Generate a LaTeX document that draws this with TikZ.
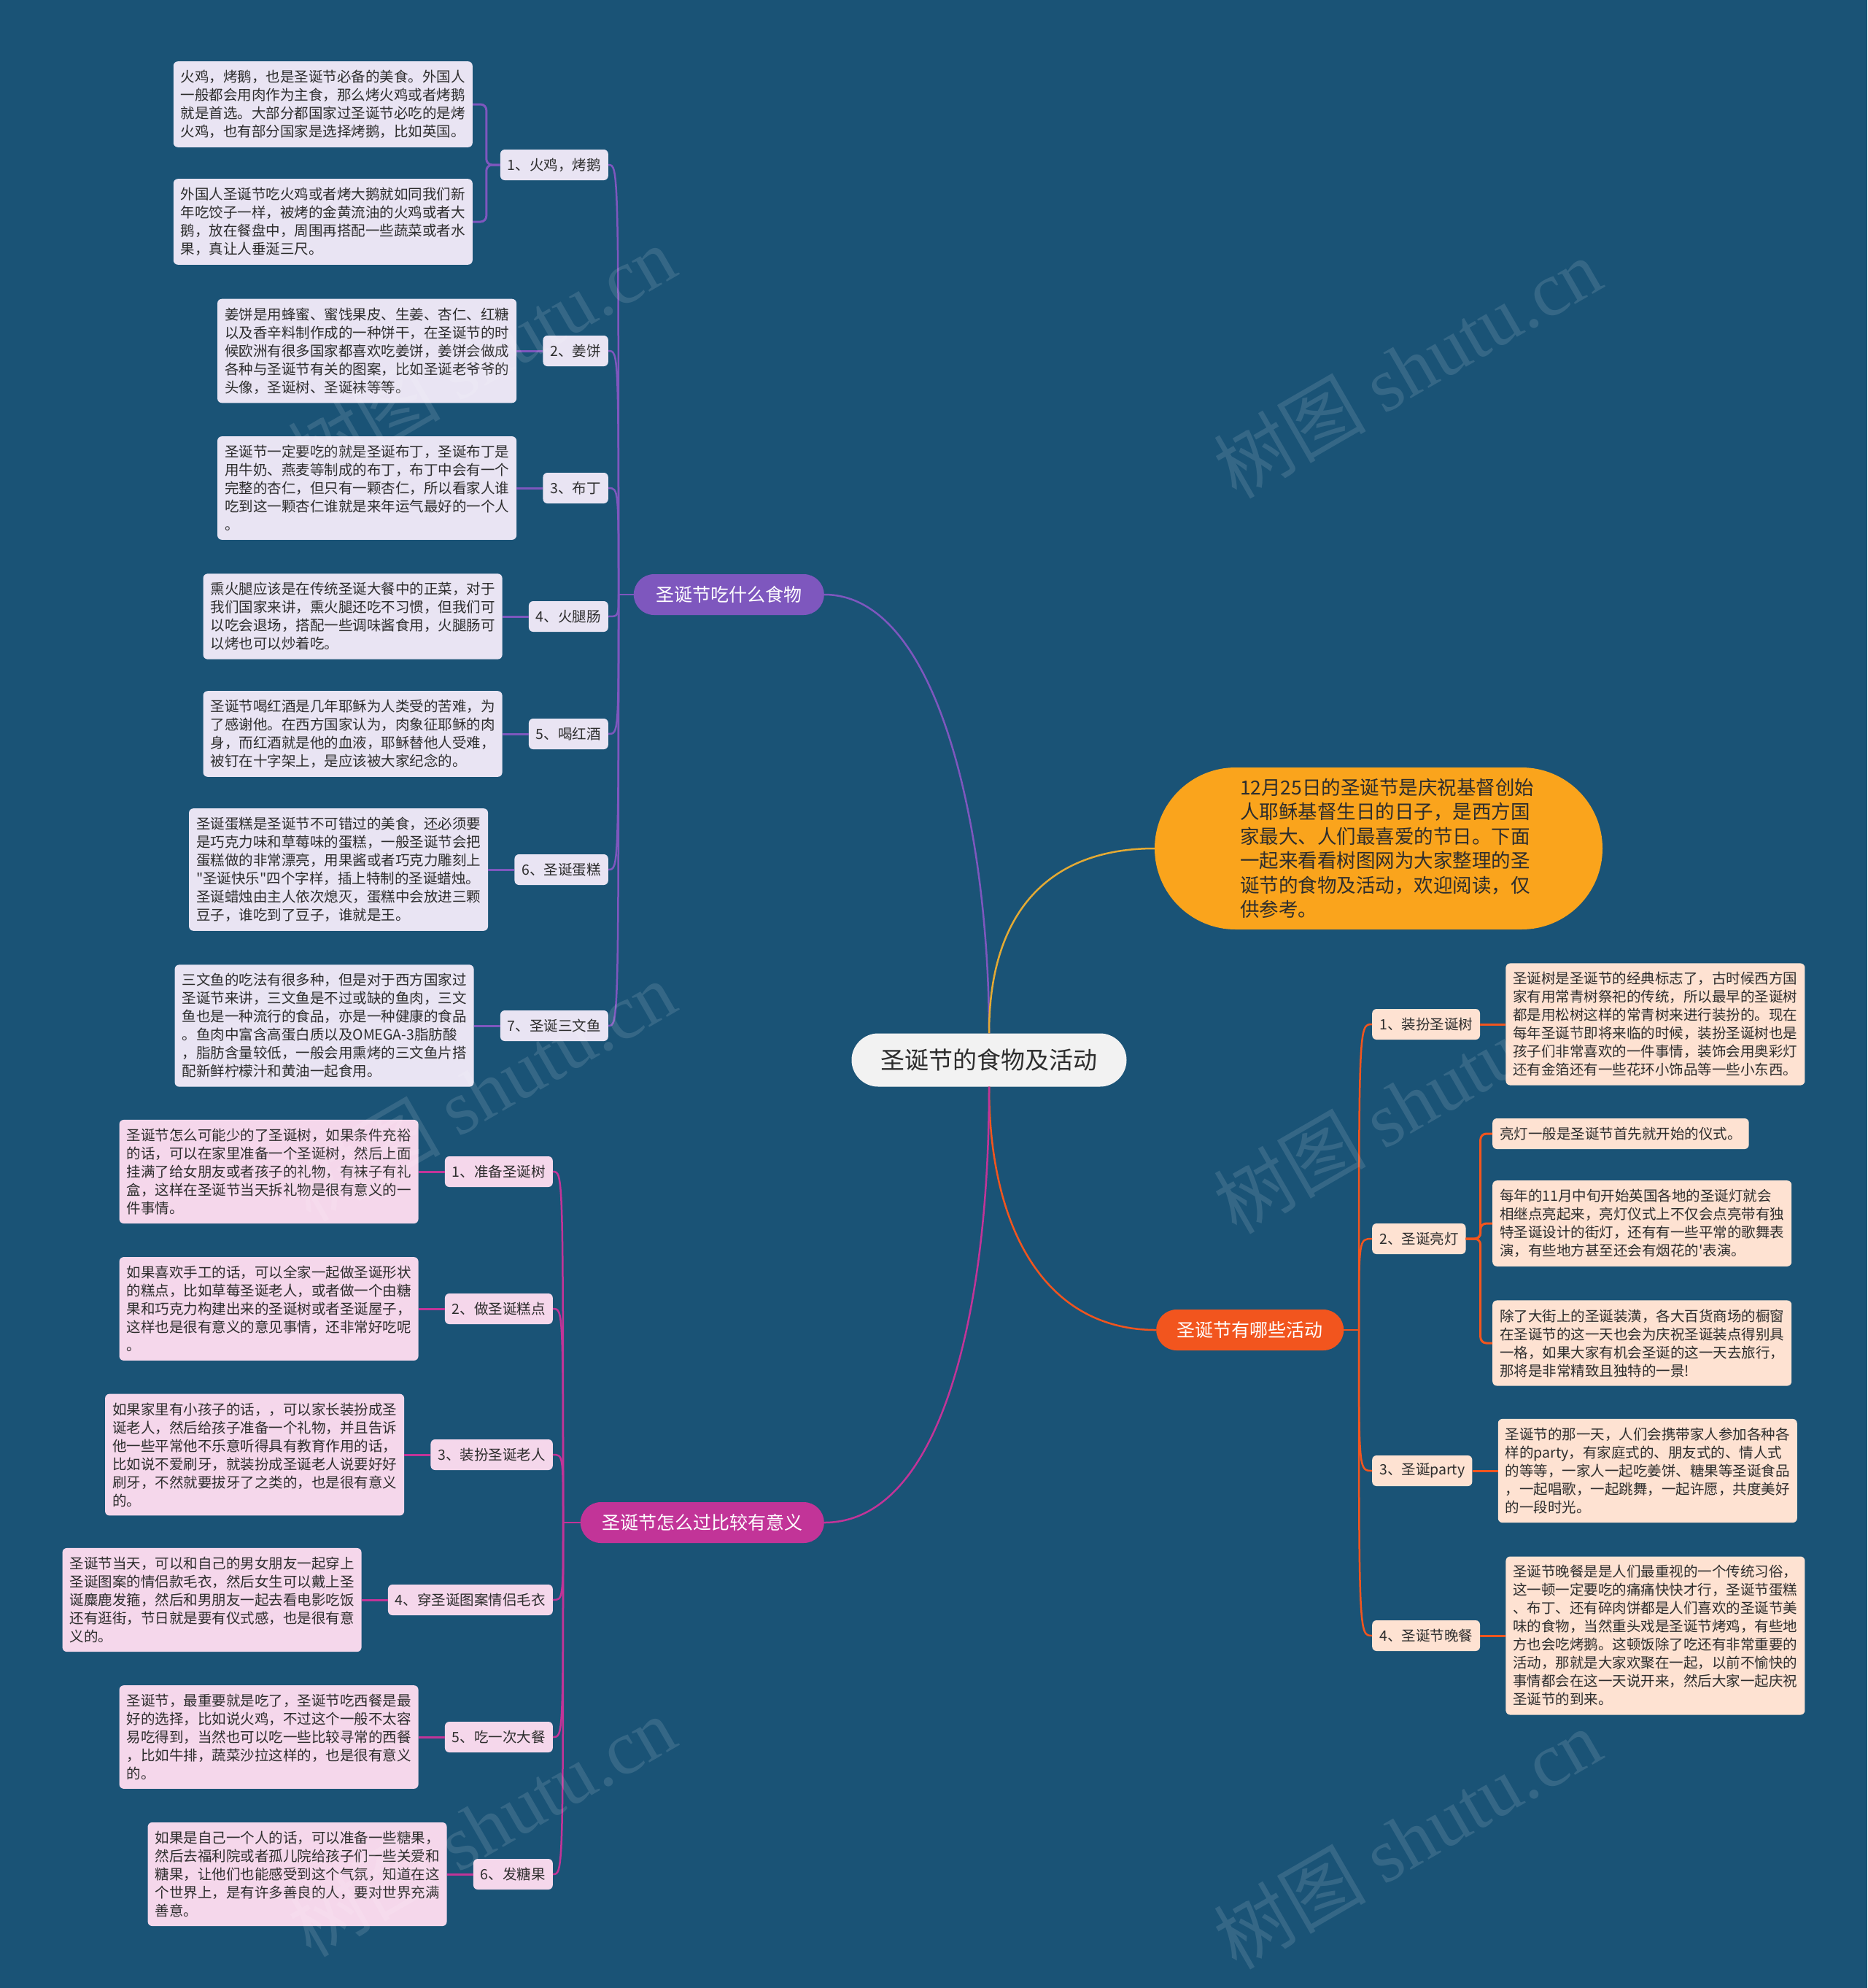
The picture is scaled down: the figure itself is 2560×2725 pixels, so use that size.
\documentclass[tikz,border=0pt]{standalone}
\usepackage{fontspec}
\setmainfont{Noto Sans CJK SC}[Ligatures=TeXOff]
\newfontfamily\wmlatin{Liberation Serif}
\usepackage{xcolor}
\usepackage{tikz}
\usetikzlibrary{positioning, calc}
\definecolor{bgblue}{RGB}{26, 83, 118}
\definecolor{rootfill}{RGB}{242, 242, 242}
\definecolor{inkgray}{RGB}{45, 45, 45}
\definecolor{foodpurple}{RGB}{126, 87, 190}
\definecolor{foodleaf}{RGB}{233, 228, 243}
\definecolor{introgold}{RGB}{250, 164, 28}
\definecolor{introline}{RGB}{228, 170, 52}
\definecolor{actorange}{RGB}{242, 85, 30}
\definecolor{actleaf}{RGB}{254, 226, 210}
\definecolor{meanmagenta}{RGB}{194, 52, 152}
\definecolor{meanleaf}{RGB}{245, 215, 235}
\newcommand{\leaffont}{\fontsize{19.5}{25}\selectfont}

\begin{document}
\begin{tikzpicture}[x=1pt, y=-1pt,
  rootnode/.style={rectangle, rounded corners=36.5pt, minimum width=377pt,
    minimum height=73pt, inner sep=0pt, fill=rootfill, text=inkgray,
    font=\fontsize{33}{38}\selectfont},
  pill/.style={rectangle, rounded corners=28pt, minimum height=56pt,
    inner sep=0pt, text=white, font=\fontsize{25}{30}\selectfont},
  introbox/.style={rectangle, rounded corners=111pt, minimum width=614pt,
    minimum height=222pt, text width=380pt, inner sep=4pt, align=left,
    fill=introgold, text=inkgray, font=\fontsize{26.5}{33.5}\selectfont},
  subbox/.style={rectangle, rounded corners=6pt, minimum height=42pt,
    inner xsep=10pt, inner ysep=0pt, text=inkgray, font=\leaffont},
  leafbox/.style={rectangle, rounded corners=6pt, text width=390pt,
    inner xsep=10pt, inner ysep=12pt, align=left, text=inkgray, font=\leaffont},
  shortleaf/.style={rectangle, rounded corners=6pt, minimum height=42pt,
    inner xsep=10pt, inner ysep=0pt, text=inkgray, font=\leaffont},
  link/.style={line width=2.5pt},
  leaflink/.style={line width=3pt},
  wmark/.style={text=white, opacity=0.12, rotate=30,
    font=\fontsize{105}{105}\selectfont}]

\fill[bgblue] (0,0) rectangle (2560,2725);
\useasboundingbox (0,0) rectangle (2560,2725);

% root and main branches
\node[rootnode] (root) at (1356,1453) {圣诞节的食物及活动};
\node[pill, fill=foodpurple, minimum width=261pt, anchor=east] (food) at (1130,815) {圣诞节吃什么食物};
\node[introbox] (intro) at (1890,1163) {12月25日的圣诞节是庆祝基督创始\\人耶稣基督生日的日子，是西方国\\家最大、人们最喜爱的节日。下面\\一起来看看树图网为大家整理的圣\\诞节的食物及活动，欢迎阅读，仅\\供参考。};
\node[pill, fill=actorange, minimum width=257pt, anchor=west] (act) at (1585,1823) {圣诞节有哪些活动};
\node[pill, fill=meanmagenta, minimum width=334pt, anchor=east] (mean) at (1130,2087) {圣诞节怎么过比较有意义};

\draw[link, draw=foodpurple] (root.north) .. controls +(0,-266) and +(160,0) .. (food.east);
\draw[link, draw=introline] (root.north) .. controls +(0,-166) and +(-145,0) .. (intro.west);
\draw[link, draw=actorange] (root.south) .. controls +(0,190) and +(-155,0) .. (act.west);
\draw[link, draw=meanmagenta] (root.south) .. controls +(0,310) and +(160,0) .. (mean.east);

% food
\coordinate (fhub) at (848,815);
\node[subbox, fill=foodleaf, anchor=east] (f1) at (834,226) {1、火鸡，烤鹅};
\node[subbox, fill=foodleaf, anchor=east] (f2) at (834,481) {2、姜饼};
\node[subbox, fill=foodleaf, anchor=east] (f3) at (834,669) {3、布丁};
\node[subbox, fill=foodleaf, anchor=east] (f4) at (834,845) {4、火腿肠};
\node[subbox, fill=foodleaf, anchor=east] (f5) at (834,1006) {5、喝红酒};
\node[subbox, fill=foodleaf, anchor=east] (f6) at (834,1192) {6、圣诞蛋糕};
\node[subbox, fill=foodleaf, anchor=east] (f7) at (834,1406) {7、圣诞三文鱼};

\node[leafbox, fill=foodleaf, anchor=east] (f1a) at (648,143) {火鸡，烤鹅，也是圣诞节必备的美食。外国人\\一般都会用肉作为主食，那么烤火鸡或者烤鹅\\就是首选。大部分都国家过圣诞节必吃的是烤\\火鸡，也有部分国家是选择烤鹅，比如英国。};
\node[leafbox, fill=foodleaf, anchor=east] (f1b) at (648,304) {外国人圣诞节吃火鸡或者烤大鹅就如同我们新\\年吃饺子一样，被烤的金黄流油的火鸡或者大\\鹅，放在餐盘中，周围再搭配一些蔬菜或者水\\果，真让人垂涎三尺。};
\node[leafbox, fill=foodleaf, left=36pt of f2] (f2a) {姜饼是用蜂蜜、蜜饯果皮、生姜、杏仁、红糖\\以及香辛料制作成的一种饼干，在圣诞节的时\\候欧洲有很多国家都喜欢吃姜饼，姜饼会做成\\各种与圣诞节有关的图案，比如圣诞老爷爷的\\头像，圣诞树、圣诞袜等等。};
\node[leafbox, fill=foodleaf, left=36pt of f3] (f3a) {圣诞节一定要吃的就是圣诞布丁，圣诞布丁是\\用牛奶、燕麦等制成的布丁，布丁中会有一个\\完整的杏仁，但只有一颗杏仁，所以看家人谁\\吃到这一颗杏仁谁就是来年运气最好的一个人\\。};
\node[leafbox, fill=foodleaf, left=36pt of f4] (f4a) {熏火腿应该是在传统圣诞大餐中的正菜，对于\\我们国家来讲，熏火腿还吃不习惯，但我们可\\以吃会退场，搭配一些调味酱食用，火腿肠可\\以烤也可以炒着吃。};
\node[leafbox, fill=foodleaf, left=36pt of f5] (f5a) {圣诞节喝红酒是几年耶稣为人类受的苦难，为\\了感谢他。在西方国家认为，肉象征耶稣的肉\\身，而红酒就是他的血液，耶稣替他人受难，\\被钉在十字架上，是应该被大家纪念的。};
\node[leafbox, fill=foodleaf, left=36pt of f6] (f6a) {圣诞蛋糕是圣诞节不可错过的美食，还必须要\\是巧克力味和草莓味的蛋糕，一般圣诞节会把\\蛋糕做的非常漂亮，用果酱或者巧克力雕刻上\\"圣诞快乐"四个字样，插上特制的圣诞蜡烛。\\圣诞蜡烛由主人依次熄灭，蛋糕中会放进三颗\\豆子，谁吃到了豆子，谁就是王。};
\node[leafbox, fill=foodleaf, left=36pt of f7] (f7a) {三文鱼的吃法有很多种，但是对于西方国家过\\圣诞节来讲，三文鱼是不过或缺的鱼肉，三文\\鱼也是一种流行的食品，亦是一种健康的食品\\。鱼肉中富含高蛋白质以及OMEGA-3脂肪酸\\，脂肪含量较低，一般会用熏烤的三文鱼片搭\\配新鲜柠檬汁和黄油一起食用。};

\draw[link, draw=foodpurple] (food.west) -- (fhub);
\draw[link, draw=foodpurple] (fhub) .. controls (fhub |- f1.east) .. (f1.east);
\draw[link, draw=foodpurple] (fhub) .. controls (fhub |- f2.east) .. (f2.east);
\draw[link, draw=foodpurple] (fhub) .. controls (fhub |- f3.east) .. (f3.east);
\draw[link, draw=foodpurple] (fhub) .. controls (fhub |- f4.east) .. (f4.east);
\draw[link, draw=foodpurple] (fhub) .. controls (fhub |- f5.east) .. (f5.east);
\draw[link, draw=foodpurple] (fhub) .. controls (fhub |- f6.east) .. (f6.east);
\draw[link, draw=foodpurple] (fhub) .. controls (fhub |- f7.east) .. (f7.east);
\draw[leaflink, draw=foodpurple, rounded corners=8pt] (f1.west) -- ++(-19,0) |- (f1a.east);
\draw[leaflink, draw=foodpurple, rounded corners=8pt] (f1.west) -- ++(-19,0) |- (f1b.east);
\draw[leaflink, draw=foodpurple] (f2.west) -- (f2a.east);
\draw[leaflink, draw=foodpurple] (f3.west) -- (f3a.east);
\draw[leaflink, draw=foodpurple] (f4.west) -- (f4a.east);
\draw[leaflink, draw=foodpurple] (f5.west) -- (f5a.east);
\draw[leaflink, draw=foodpurple] (f6.west) -- (f6a.east);
\draw[leaflink, draw=foodpurple] (f7.west) -- (f7a.east);

% activities
\coordinate (ahub) at (1863,1823);
\node[subbox, fill=actleaf, anchor=west] (a1) at (1881,1404) {1、装扮圣诞树};
\node[subbox, fill=actleaf, anchor=west] (a2) at (1881,1698) {2、圣诞亮灯};
\node[subbox, fill=actleaf, anchor=west] (a3) at (1881,2016) {3、圣诞party};
\node[subbox, fill=actleaf, anchor=west] (a4) at (1881,2242) {4、圣诞节晚餐};

\node[leafbox, fill=actleaf, right=35pt of a1] (a1a) {圣诞树是圣诞节的经典标志了，古时候西方国\\家有用常青树祭祀的传统，所以最早的圣诞树\\都是用松树这样的常青树来进行装扮的。现在\\每年圣诞节即将来临的时候，装扮圣诞树也是\\孩子们非常喜欢的一件事情，装饰会用奥彩灯\\还有金箔还有一些花环小饰品等一些小东西。};
\node[shortleaf, fill=actleaf, anchor=west] (a2a) at (2046,1554) {亮灯一般是圣诞节首先就开始的仪式。};
\node[leafbox, fill=actleaf, anchor=west] (a2b) at (2046,1677) {每年的11月中旬开始英国各地的圣诞灯就会\\相继点亮起来，亮灯仪式上不仅会点亮带有独\\特圣诞设计的街灯，还有有一些平常的歌舞表\\演，有些地方甚至还会有烟花的'表演。};
\node[leafbox, fill=actleaf, anchor=west] (a2c) at (2046,1841) {除了大街上的圣诞装潢，各大百货商场的橱窗\\在圣诞节的这一天也会为庆祝圣诞装点得别具\\一格，如果大家有机会圣诞的这一天去旅行，\\那将是非常精致且独特的一景!};
\node[leafbox, fill=actleaf, right=35pt of a3] (a3a) {圣诞节的那一天，人们会携带家人参加各种各\\样的party，有家庭式的、朋友式的、情人式\\的等等，一家人一起吃姜饼、糖果等圣诞食品\\，一起唱歌，一起跳舞，一起许愿，共度美好\\的一段时光。};
\node[leafbox, fill=actleaf, right=35pt of a4] (a4a) {圣诞节晚餐是是人们最重视的一个传统习俗，\\这一顿一定要吃的痛痛快快才行，圣诞节蛋糕\\、布丁、还有碎肉饼都是人们喜欢的圣诞节美\\味的食物，当然重头戏是圣诞节烤鸡，有些地\\方也会吃烤鹅。这顿饭除了吃还有非常重要的\\活动，那就是大家欢聚在一起，以前不愉快的\\事情都会在这一天说开来，然后大家一起庆祝\\圣诞节的到来。};

\draw[link, draw=actorange] (act.east) -- (ahub);
\draw[link, draw=actorange] (ahub) .. controls (ahub |- a1.west) .. (a1.west);
\draw[link, draw=actorange] (ahub) .. controls (ahub |- a2.west) .. (a2.west);
\draw[link, draw=actorange] (ahub) .. controls (ahub |- a3.west) .. (a3.west);
\draw[link, draw=actorange] (ahub) .. controls (ahub |- a4.west) .. (a4.west);
\draw[leaflink, draw=actorange] (a1.east) -- (a1a.west);
\draw[leaflink, draw=actorange, rounded corners=8pt] (a2.east) -- ++(20,0) |- (a2a.west);
\draw[leaflink, draw=actorange, rounded corners=8pt] (a2.east) -- ++(20,0) |- (a2b.west);
\draw[leaflink, draw=actorange, rounded corners=8pt] (a2.east) -- ++(20,0) |- (a2c.west);
\draw[leaflink, draw=actorange] (a3.east) -- (a3a.west);
\draw[leaflink, draw=actorange] (a4.east) -- (a4a.west);

% meaning
\coordinate (mhub) at (772,2087);
\node[subbox, fill=meanleaf, anchor=east] (m1) at (758,1606) {1、准备圣诞树};
\node[subbox, fill=meanleaf, anchor=east] (m2) at (758,1794) {2、做圣诞糕点};
\node[subbox, fill=meanleaf, anchor=east] (m3) at (758,1994) {3、装扮圣诞老人};
\node[subbox, fill=meanleaf, anchor=east] (m4) at (758,2193) {4、穿圣诞图案情侣毛衣};
\node[subbox, fill=meanleaf, anchor=east] (m5) at (758,2381) {5、吃一次大餐};
\node[subbox, fill=meanleaf, anchor=east] (m6) at (758,2569) {6、发糖果};

\node[leafbox, fill=meanleaf, left=36pt of m1] (m1a) {圣诞节怎么可能少的了圣诞树，如果条件充裕\\的话，可以在家里准备一个圣诞树，然后上面\\挂满了给女朋友或者孩子的礼物，有袜子有礼\\盒，这样在圣诞节当天拆礼物是很有意义的一\\件事情。};
\node[leafbox, fill=meanleaf, left=36pt of m2] (m2a) {如果喜欢手工的话，可以全家一起做圣诞形状\\的糕点，比如草莓圣诞老人，或者做一个由糖\\果和巧克力构建出来的圣诞树或者圣诞屋子，\\这样也是很有意义的意见事情，还非常好吃呢\\。};
\node[leafbox, fill=meanleaf, left=36pt of m3] (m3a) {如果家里有小孩子的话，，可以家长装扮成圣\\诞老人，然后给孩子准备一个礼物，并且告诉\\他一些平常他不乐意听得具有教育作用的话，\\比如说不爱刷牙，就装扮成圣诞老人说要好好\\刷牙，不然就要拔牙了之类的，也是很有意义\\的。};
\node[leafbox, fill=meanleaf, left=36pt of m4] (m4a) {圣诞节当天，可以和自己的男女朋友一起穿上\\圣诞图案的情侣款毛衣，然后女生可以戴上圣\\诞麋鹿发箍，然后和男朋友一起去看电影吃饭\\还有逛街，节日就是要有仪式感，也是很有意\\义的。};
\node[leafbox, fill=meanleaf, left=36pt of m5] (m5a) {圣诞节，最重要就是吃了，圣诞节吃西餐是最\\好的选择，比如说火鸡，不过这个一般不太容\\易吃得到，当然也可以吃一些比较寻常的西餐\\，比如牛排，蔬菜沙拉这样的，也是很有意义\\的。};
\node[leafbox, fill=meanleaf, left=36pt of m6] (m6a) {如果是自己一个人的话，可以准备一些糖果，\\然后去福利院或者孤儿院给孩子们一些关爱和\\糖果，让他们也能感受到这个气氛，知道在这\\个世界上，是有许多善良的人，要对世界充满\\善意。};

\draw[link, draw=meanmagenta] (mean.west) -- (mhub);
\draw[link, draw=meanmagenta] (mhub) .. controls (mhub |- m1.east) .. (m1.east);
\draw[link, draw=meanmagenta] (mhub) .. controls (mhub |- m2.east) .. (m2.east);
\draw[link, draw=meanmagenta] (mhub) .. controls (mhub |- m3.east) .. (m3.east);
\draw[link, draw=meanmagenta] (mhub) .. controls (mhub |- m4.east) .. (m4.east);
\draw[link, draw=meanmagenta] (mhub) .. controls (mhub |- m5.east) .. (m5.east);
\draw[link, draw=meanmagenta] (mhub) .. controls (mhub |- m6.east) .. (m6.east);
\draw[leaflink, draw=meanmagenta] (m1.west) -- (m1a.east);
\draw[leaflink, draw=meanmagenta] (m2.west) -- (m2a.east);
\draw[leaflink, draw=meanmagenta] (m3.west) -- (m3a.east);
\draw[leaflink, draw=meanmagenta] (m4.west) -- (m4a.east);
\draw[leaflink, draw=meanmagenta] (m5.west) -- (m5a.east);
\draw[leaflink, draw=meanmagenta] (m6.west) -- (m6a.east);

% watermarks
\node[wmark] (wm1) at (660,487) {树图 {\wmlatin shutu.cn}};
\node[wmark] (wm2) at (1929,504) {树图 {\wmlatin shutu.cn}};
\node[wmark] (wm3) at (660,1495) {树图 {\wmlatin shutu.cn}};
\node[wmark] (wm4) at (1929,1512) {树图 {\wmlatin shutu.cn}};
\node[wmark] (wm5) at (660,2503) {树图 {\wmlatin shutu.cn}};
\node[wmark] (wm6) at (1929,2520) {树图 {\wmlatin shutu.cn}};

\end{tikzpicture}
\end{document}
